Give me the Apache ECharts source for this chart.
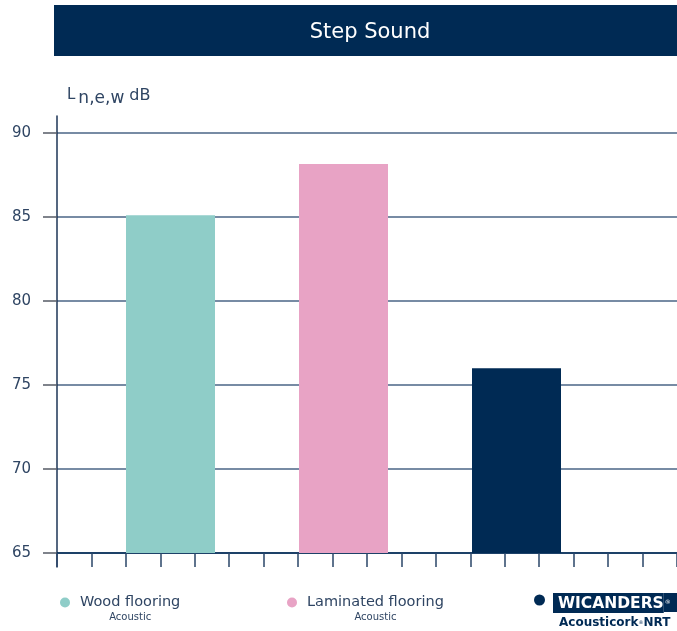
<!DOCTYPE html>
<html>
<head>
<meta charset="utf-8">
<script src="https://cdn.jsdelivr.net/npm/echarts@6/dist/echarts.min.js"></script>
<style>html,body{margin:0;padding:0;background:#fff}#c{width:677px;height:631px}</style>
</head>
<body>
<div id="c"></div>
<script>
const categories = ['Wood flooring', 'Laminated flooring', 'Acousticork NRT'];
const subtitles = ['Acoustic', 'Acoustic', ''];
const values = [85.1, 88.15, 76.0];
const colors = ['#8fcdc8', '#e8a3c5', '#002a54'];
const yMin = 65, yMax = 90, yStep = 5;
const xTickCount = 18;
const titleText = 'Step Sound';

const NAVY = '#002a54';
const TEXT = '#2f4563';
const GRID = '#4a6586';
const FONT = 'DejaVu Sans';

const chart = echarts.init(document.getElementById('c'));

const series = categories.map((name, i) => ({
  type: 'bar',
  name: name,
  xAxisIndex: 0,
  yAxisIndex: 0,
  barWidth: 89,
  barGap: '-100%',
  z: 5,
  data: values.map((v, j) => (j === i ? v : '-')),
  itemStyle: { color: colors[i] }
}));

const legendLefts = [60, 287, 534];
const legends = categories.map((name, i) => {
  if (i < 2) {
    return {
      data: [name], left: legendLefts[i], top: 595, padding: 0,
      icon: 'circle', itemWidth: 10, itemHeight: 10, selectedMode: false,
      formatter: n => `{n|${n}}\n{s|${subtitles[i]}}`,
      textStyle: {
        padding: [14, 0, 0, 5],
        rich: {
          n: { fontFamily: FONT, fontSize: 14.5, color: TEXT, lineHeight: 16 },
          s: { fontFamily: FONT, fontSize: 10, color: TEXT, lineHeight: 14, align: 'center' }
        }
      }
    };
  }
  return {
    data: [name], left: legendLefts[i], top: 593, padding: 0,
    icon: 'circle', itemWidth: 11, itemHeight: 11, selectedMode: false,
    formatter: () => '{w|WICANDERS}{wr|®}\n{a|Acousticork}{ar|®}{b|NRT}',
    textStyle: {
      padding: [26, 0, 0, 3],
      rich: {
        w: { backgroundColor: NAVY, color: '#fff', fontFamily: FONT, fontWeight: 'bold', fontSize: 15.5, height: 19, padding: [1, 0, 0, 5], verticalAlign: 'middle' },
        wr: { backgroundColor: NAVY, color: '#fff', fontFamily: FONT, fontSize: 6, height: 19, padding: [0, 12, 0, 1], verticalAlign: 'top' },
        a: { color: NAVY, fontFamily: FONT, fontWeight: 'bold', fontSize: 12, height: 20, padding: [0, 0, 0, 6], verticalAlign: 'middle' },
        ar: { color: NAVY, fontFamily: FONT, fontSize: 5, height: 20, verticalAlign: 'top' },
        b: { color: NAVY, fontFamily: FONT, fontWeight: 'bold', fontSize: 12, height: 20, verticalAlign: 'middle' }
      }
    }
  };
});

const option = {
  animation: false,
  backgroundColor: '#ffffff',
  graphic: [{
    type: 'rect', left: 54, top: 5, z: -1,
    shape: { width: 623, height: 51 },
    style: { fill: NAVY }
  }],
  title: {
    text: titleText, left: 365, top: 17, textAlign: 'center',
    textStyle: { color: '#ffffff', fontFamily: FONT, fontWeight: 'normal', fontSize: 21 }
  },
  legend: legends,
  grid: [
    { left: 84, right: 74, top: 133, bottom: 78 },
    { left: 57, right: -3, top: 133, bottom: 78 },
    { left: 57, right: -3, top: 116, bottom: 64 }
  ],
  xAxis: [
    { type: 'category', gridIndex: 0, data: categories, show: false },
    { type: 'value', gridIndex: 1, min: 0, max: xTickCount, interval: 1,
      axisLine: { show: true, lineStyle: { color: NAVY, width: 1.5 } },
      axisTick: { show: true, inside: false, length: 14, lineStyle: { color: '#2a4668', width: 1.5 } },
      axisLabel: { show: false }, splitLine: { show: false } },
    { type: 'value', gridIndex: 2, show: false, min: 0, max: 1 }
  ],
  yAxis: [
    { type: 'value', gridIndex: 0, min: yMin, max: yMax, show: false },
    { type: 'value', gridIndex: 1, min: yMin, max: yMax, interval: yStep,
      name: '{l|L}{s|n,e,w}{d|dB}',
      nameLocation: 'end', nameGap: 26,
      nameTextStyle: {
        align: 'left', verticalAlign: 'bottom', padding: [0, 0, 0, 10],
        rich: {
          l: { fontFamily: FONT, fontSize: 15, color: TEXT, verticalAlign: 'top', lineHeight: 19 },
          s: { fontFamily: FONT, fontSize: 17, color: TEXT, verticalAlign: 'bottom', lineHeight: 19, padding: [0, 5, 0, 3] },
          d: { fontFamily: FONT, fontSize: 16, color: TEXT, verticalAlign: 'top', lineHeight: 19 }
        }
      },
      axisLine: { show: false },
      axisTick: { show: true, inside: false, length: 14, lineStyle: { color: '#555b66', width: 1.5 } },
      axisLabel: { margin: 26, color: TEXT, fontFamily: FONT, fontSize: 15 },
      splitLine: { show: true, lineStyle: { color: GRID, width: 1.5 } } },
    { type: 'value', gridIndex: 2, min: 0, max: 1,
      axisLine: { show: true, lineStyle: { color: '#1c3556', width: 1.5 } },
      axisTick: { show: false }, axisLabel: { show: false }, splitLine: { show: false } }
  ],
  series: series
};
chart.setOption(option);
</script>
</body>
</html>
